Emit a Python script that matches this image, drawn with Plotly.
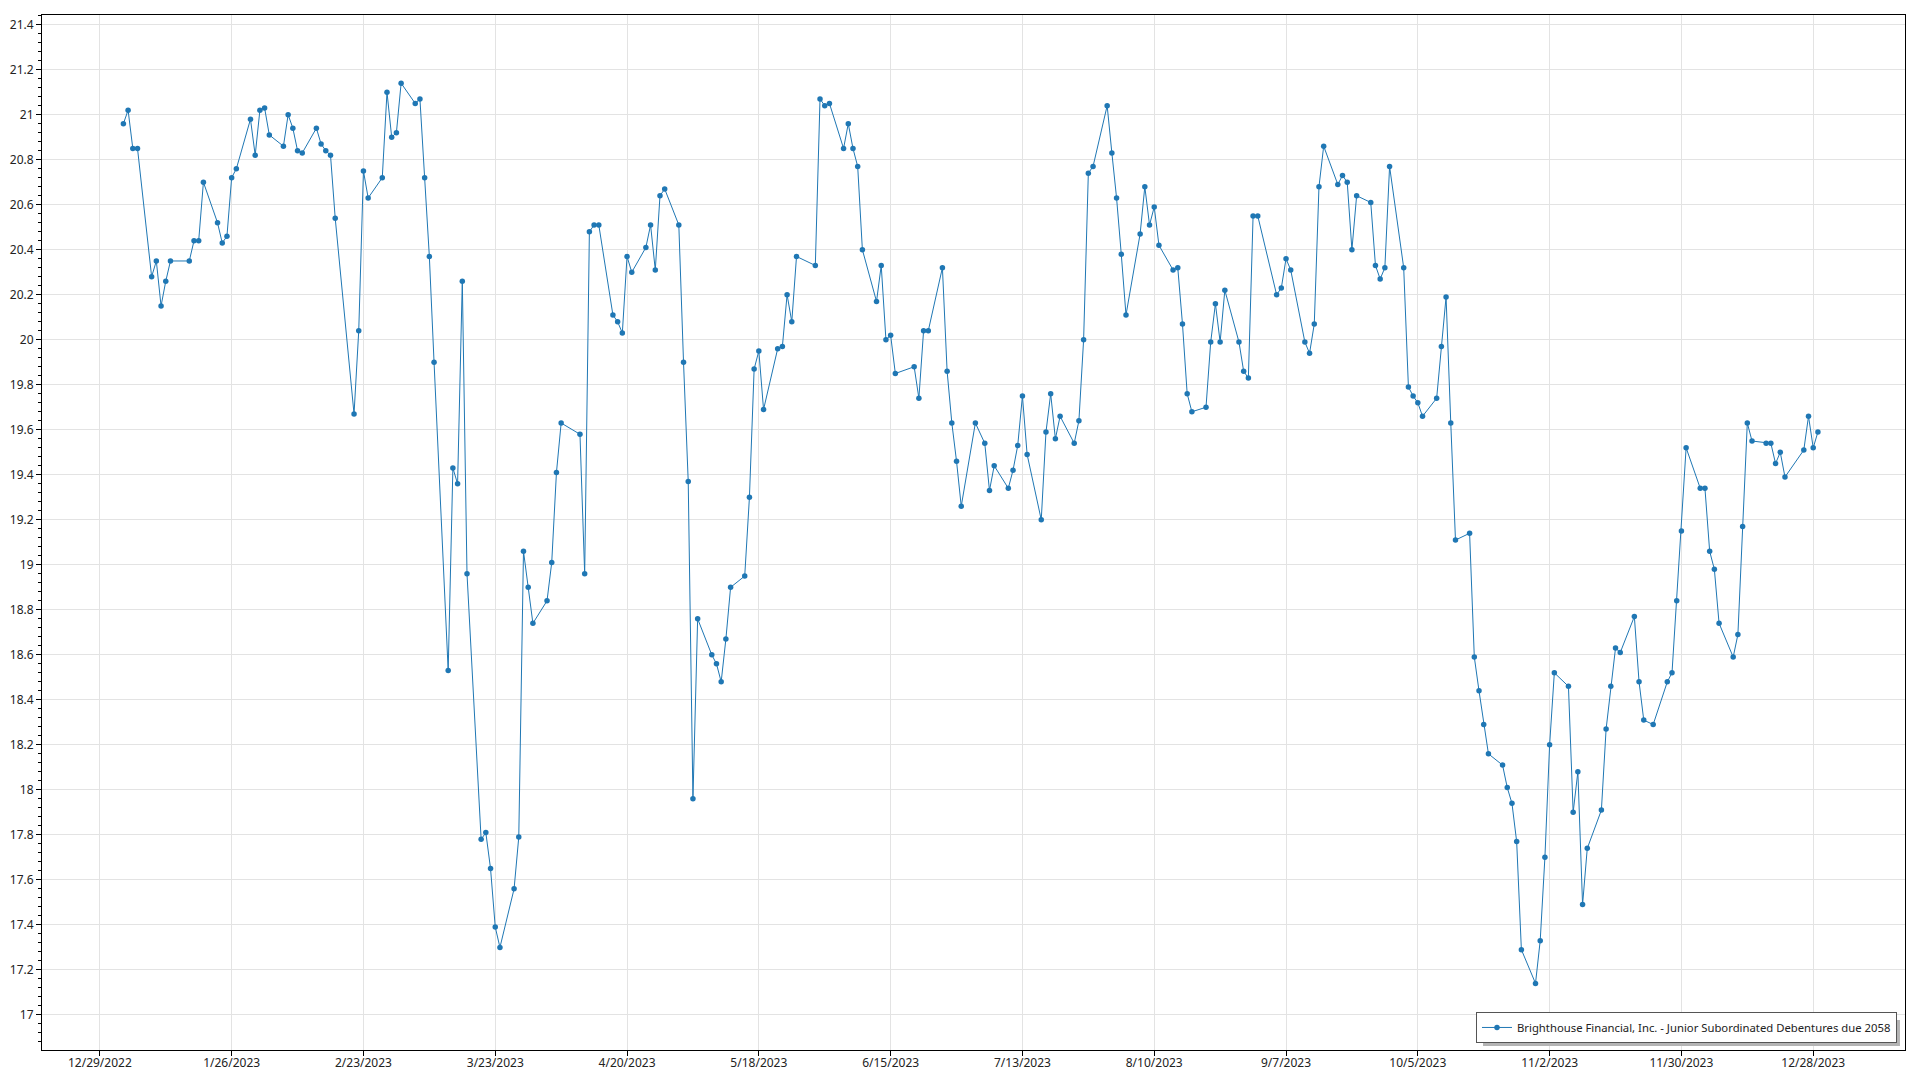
import plotly.graph_objects as go

series_name = "Brighthouse Financial, Inc. - Junior Subordinated Debentures due 2058"

months = {
    "01": ([3, 4, 5, 6, 9, 10, 11, 12, 13, 17, 18, 19, 20, 23, 24, 25, 26, 27, 30, 31],
           [20.96, 21.02, 20.85, 20.85, 20.28, 20.35, 20.15, 20.26, 20.35, 20.35, 20.44, 20.44, 20.70, 20.52, 20.43, 20.46, 20.72, 20.76, 20.98, 20.82]),
    "02": ([1, 2, 3, 6, 7, 8, 9, 10, 13, 14, 15, 16, 17, 21, 22, 23, 24, 27, 28],
           [21.02, 21.03, 20.91, 20.86, 21.00, 20.94, 20.84, 20.83, 20.94, 20.87, 20.84, 20.82, 20.54, 19.67, 20.04, 20.75, 20.63, 20.72, 21.10]),
    "03": ([1, 2, 3, 6, 7, 8, 9, 10, 13, 14, 15, 16, 17, 20, 21, 22, 23, 24, 27, 28, 29, 30, 31],
           [20.90, 20.92, 21.14, 21.05, 21.07, 20.72, 20.37, 19.90, 18.53, 19.43, 19.36, 20.26, 18.96, 17.78, 17.81, 17.65, 17.39, 17.30, 17.56, 17.79, 19.06, 18.90, 18.74]),
    "04": ([3, 4, 5, 6, 10, 11, 12, 13, 14, 17, 18, 19, 20, 21, 24, 25, 26, 27, 28],
           [18.84, 19.01, 19.41, 19.63, 19.58, 18.96, 20.48, 20.51, 20.51, 20.11, 20.08, 20.03, 20.37, 20.30, 20.41, 20.51, 20.31, 20.64, 20.67]),
    "05": ([1, 2, 3, 4, 5, 8, 9, 10, 11, 12, 15, 16, 17, 18, 19, 22, 23, 24, 25, 26, 30, 31],
           [20.51, 19.90, 19.37, 17.96, 18.76, 18.60, 18.56, 18.48, 18.67, 18.90, 18.95, 19.30, 19.87, 19.95, 19.69, 19.96, 19.97, 20.20, 20.08, 20.37, 20.33, 21.07]),
    "06": ([1, 2, 5, 6, 7, 8, 9, 12, 13, 14, 15, 16, 20, 21, 22, 23, 26, 27, 28, 29, 30],
           [21.04, 21.05, 20.85, 20.96, 20.85, 20.77, 20.40, 20.17, 20.33, 20.00, 20.02, 19.85, 19.88, 19.74, 20.04, 20.04, 20.32, 19.86, 19.63, 19.46, 19.26]),
    "07": ([3, 5, 6, 7, 10, 11, 12, 13, 14, 17, 18, 19, 20, 21, 24, 25, 26, 27, 28, 31],
           [19.63, 19.54, 19.33, 19.44, 19.34, 19.42, 19.53, 19.75, 19.49, 19.20, 19.59, 19.76, 19.56, 19.66, 19.54, 19.64, 20.00, 20.74, 20.77, 21.04]),
    "08": ([1, 2, 3, 4, 7, 8, 9, 10, 11, 14, 15, 16, 17, 18, 21, 22, 23, 24, 25, 28, 29, 30, 31],
           [20.83, 20.63, 20.38, 20.11, 20.47, 20.68, 20.51, 20.59, 20.42, 20.31, 20.32, 20.07, 19.76, 19.68, 19.70, 19.99, 20.16, 19.99, 20.22, 19.99, 19.86, 19.83, 20.55]),
    "09": ([1, 5, 6, 7, 8, 11, 12, 13, 14, 15, 18, 19, 20, 21, 22, 25, 26, 27, 28, 29],
           [20.55, 20.20, 20.23, 20.36, 20.31, 19.99, 19.94, 20.07, 20.68, 20.86, 20.69, 20.73, 20.70, 20.40, 20.64, 20.61, 20.33, 20.27, 20.32, 20.77]),
    "10": ([2, 3, 4, 5, 6, 9, 10, 11, 12, 13, 16, 17, 18, 19, 20, 23, 24, 25, 26, 27, 30, 31],
           [20.32, 19.79, 19.75, 19.72, 19.66, 19.74, 19.97, 20.19, 19.63, 19.11, 19.14, 18.59, 18.44, 18.29, 18.16, 18.11, 18.01, 17.94, 17.77, 17.29, 17.14, 17.33]),
    "11": ([1, 2, 3, 6, 7, 8, 9, 10, 13, 14, 15, 16, 17, 20, 21, 22, 24, 27, 28, 29, 30],
           [17.70, 18.20, 18.52, 18.46, 17.90, 18.08, 17.49, 17.74, 17.91, 18.27, 18.46, 18.63, 18.61, 18.77, 18.48, 18.31, 18.29, 18.48, 18.52, 18.84, 19.15]),
    "12": ([1, 4, 5, 6, 7, 8, 11, 12, 13, 14, 15, 18, 19, 20, 21, 22, 26, 27, 28, 29],
           [19.52, 19.34, 19.34, 19.06, 18.98, 18.74, 18.59, 18.69, 19.17, 19.63, 19.55, 19.54, 19.54, 19.45, 19.50, 19.39, 19.51, 19.66, 19.52, 19.59]),
}

dates = []
prices = []
for m, (days, vals) in months.items():
    for d, v in zip(days, vals):
        dates.append(f"2023-{m}-{d:02d}")
        prices.append(v)

color = "#1f77b4"
font_family = "Segoe UI, Noto Sans, sans-serif"

fig = go.Figure()
fig.add_trace(go.Scatter(
    x=dates, y=prices, mode="lines+markers", name=series_name,
    line=dict(color=color, width=1),
    marker=dict(color=color, size=5.5),
))

# legend drop shadow (decoration)
fig.add_shape(type="rect", xref="paper", yref="paper",
              x0=0.7735, x1=0.9973, y0=0.0039, y1=0.029,
              fillcolor="#b4b4b4", line=dict(width=0), layer="above")

fig.update_layout(
    width=1904, height=1064,
    margin=dict(l=34, r=7, t=7, b=22, autoexpand=False),
    paper_bgcolor="white", plot_bgcolor="white",
    font=dict(family=font_family, size=12, color="#222222"),
    showlegend=True,
    legend=dict(
        x=0.9957, y=0.0068, xanchor="right", yanchor="bottom",
        bgcolor="white", bordercolor="#555555", borderwidth=1,
        font=dict(size=11.3, color="#222222"),
    ),
)

fig.update_xaxes(
    type="date", automargin=False,
    range=["2022-12-16 17:00", "2024-01-16 12:00"],
    tick0="2022-12-29", dtick=28 * 86400000,
    tickformat="%-m/%-d/%Y",
    ticklabelstandoff=-3,
    showgrid=True, gridcolor="#e3e3e3", gridwidth=1,
    showline=True, linecolor="black", linewidth=1, mirror=True,
    ticks="outside", ticklen=5, tickcolor="black",
    zeroline=False,
)
fig.update_yaxes(
    automargin=False,
    range=[16.844, 21.443],
    tick0=17, dtick=0.2,
    showgrid=True, gridcolor="#e3e3e3", gridwidth=1,
    showline=True, linecolor="black", linewidth=1, mirror=True,
    ticks="outside", ticklen=5, tickcolor="black",
    minor=dict(dtick=0.04, ticks="outside", ticklen=3, tickcolor="black", showgrid=False),
    zeroline=False,
)

fig.write_html("out.html")
